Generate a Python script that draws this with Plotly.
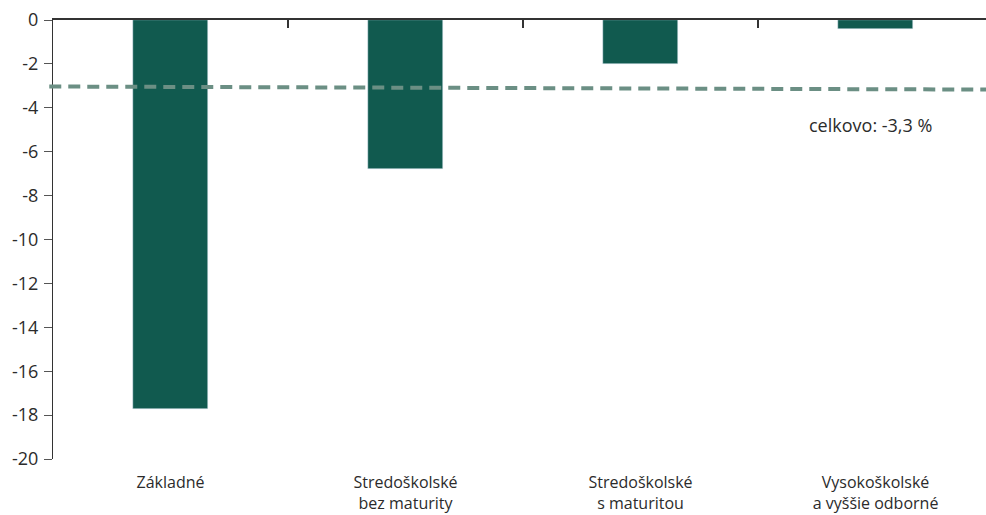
import plotly.graph_objects as go

categories = ["Základné", "Stredoškolské<br>bez maturity", "Stredoškolské<br>s maturitou", "Vysokoškolské<br>a vyššie odborné"]
values = [-17.7, -6.8, -2.0, -0.4]
celkovo_line = [-3.03, -3.17]
celkovo_label = "celkovo: -3,3 %"
y_ticks = list(range(-20, 1, 2))

FONT = "Open Sans"
TXT = "#2b2b2b"
BAR = "#115a4f"
LINE = "#6b8f84"

fig = go.Figure()
fig.add_trace(go.Bar(x=categories, y=values, marker_color=BAR, width=0.32,
                     showlegend=False, hoverinfo="skip"))
# invisible trace to activate the top (boundary-tick) axis
fig.add_trace(go.Scatter(x=[0], y=[0], xaxis="x2", mode="markers",
                         marker=dict(opacity=0), showlegend=False, hoverinfo="skip"))

fig.add_shape(type="line", xref="paper", yref="y", x0=-0.004, x1=1.0,
              y0=celkovo_line[0], y1=celkovo_line[1],
              line=dict(color=LINE, width=4, dash="12px,7px"))

fig.add_annotation(x=2.98, y=-4.8, xref="x2", yref="y", text=celkovo_label,
                   showarrow=False, font=dict(family=FONT, size=18, color=TXT))

xr = [-0.5, 3.47]
fig.update_layout(
    width=986, height=515,
    margin=dict(l=53, r=0, t=20, b=56),
    paper_bgcolor="white", plot_bgcolor="white",
    font=dict(family=FONT, size=18, color=TXT),
    xaxis=dict(type="category", range=xr, showline=False, ticks="",
               showgrid=False, zeroline=False, ticklabelstandoff=12, automargin=False,
               tickfont=dict(family=FONT, size=16, color=TXT)),
    xaxis2=dict(overlaying="x", side="top", range=xr, tickmode="array",
                tickvals=[0.5, 1.5, 2.5], ticks="inside", ticklen=8, tickwidth=1.5,
                tickcolor="#333333", showline=True, linecolor="#333333", linewidth=1.5,
                showticklabels=False, showgrid=False, zeroline=False, automargin=False),
    yaxis=dict(range=[-20, 0], tickmode="array", tickvals=y_ticks,
               ticktext=[str(v) for v in y_ticks], ticks="outside", ticklen=8,
               tickwidth=1.2, tickcolor="#555555", showline=True, linecolor="#333333",
               linewidth=1.2, showgrid=False, zeroline=False, ticklabelstandoff=2,
               automargin=False, tickfont=dict(family=FONT, size=18, color=TXT)),
    bargap=0,
)

fig.write_html("out.html")
